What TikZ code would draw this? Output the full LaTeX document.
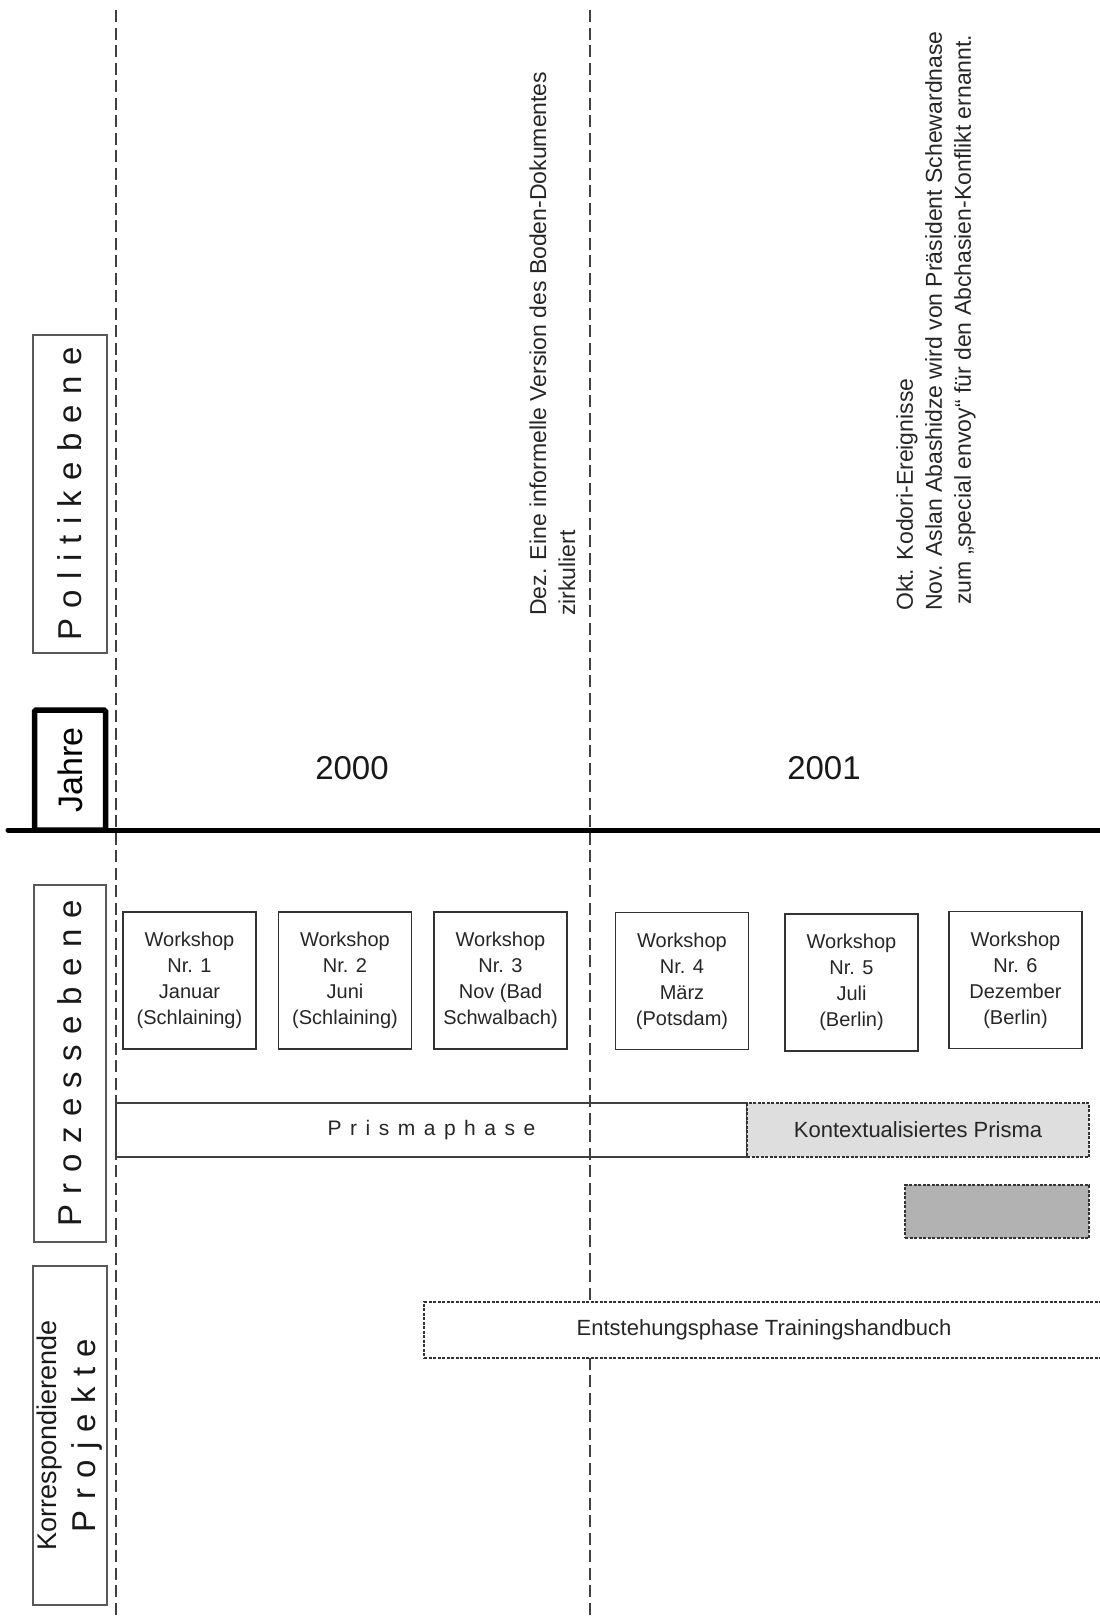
\documentclass[tikz,border=0pt]{standalone}
\usepackage{fontspec}
\setmainfont{Liberation Sans}
\makeatletter
\newcommand\lsp[2]{\def\lsp@sep{}\@tfor\lsp@c:=#2\do{\lsp@sep\lsp@c\def\lsp@sep{\hspace{#1}}}}
\makeatother
\begin{document}
\begin{tikzpicture}[x=1pt,y=-1pt,
  lane/.style={draw=black!65, line width=1.2pt, inner sep=0pt, rotate=90, text=black!90},
  bigfont/.style={font=\fontsize{33}{39}\selectfont},
  ws/.style={draw=black!80, line width=1.3pt, minimum width=133pt, minimum height=137pt, inner sep=0pt, align=center, font=\fontsize{20}{26}\selectfont, text=black!85},
  vdash/.style={draw=black!75, line width=1.4pt, dash pattern=on 12pt off 5.5pt},
  smalldash/.style={draw=black!80, line width=1.2pt, dash pattern=on 3pt off 1.5pt, inner sep=0pt, text=black!85},
  note/.style={rotate=90, anchor=west, align=left, inner sep=0pt, font=\fontsize{23}{29}\selectfont, text=black!85}]
\useasboundingbox (0,0) rectangle (1100,1617);

% vertical dashed guide lines
\coordinate (La) at (116,10); \coordinate (Lb) at (116,1617);
\coordinate (Ma) at (590,10); \coordinate (Mb) at (590,1617);
\draw[vdash] (La) -- (Lb);
\draw[vdash] (Ma) -- (Mb);

% lane labels
\node[lane, bigfont, minimum width=318pt, minimum height=74pt] (pol) at (70,494) {\lsp{10.3pt}{Politikebene}};
\node[draw=black, line width=5.5pt, rounded corners=1.5pt, rotate=90, minimum width=120pt, minimum height=71pt, inner sep=0pt, font=\fontsize{34}{40}\selectfont] (jahre) at (70,770) {Jahre};
\node[lane, bigfont, minimum width=357pt, minimum height=72pt] (proz) at (70,1063.5) {\lsp{10.5pt}{Prozessebene}};
\node[lane, bigfont, align=center, minimum width=339pt, minimum height=74pt] (korr) at (70,1435.5) {{\fontsize{27}{39}\selectfont Korrespondierende}\\\lsp{10.3pt}{Projekte}};

% time axis
\coordinate (H1) at (8,830); \coordinate (H2) at (1100,830);
\draw[line width=5pt, line cap=round] (H1) -- (H2);
\node[font=\fontsize{33}{40}\selectfont, text=black!90] (y2000) at (352,768) {2000};
\node[font=\fontsize{33}{40}\selectfont, text=black!90] (y2001) at (824,768) {2001};

% politics notes
\node[note] (dez) at (552.5,616) {Dez. Eine informelle Version des Boden-Dokumentes\\zirkuliert};
\node[note] (okt) at (936,611) {Okt. Kodori-Ereignisse\\Nov. Aslan Abashidze wird von Präsident Schewardnase\\\hspace*{6pt}zum „special envoy“ für den Abchasien-Konflikt ernannt.};

% workshops
\node[ws] (w1) at (189.5,980.5) {Workshop\\Nr. 1\\Januar\\(Schlaining)};
\node[ws] (w2) at (345,980.5) {Workshop\\Nr. 2\\Juni\\(Schlaining)};
\node[ws] (w3) at (500.5,980.5) {Workshop\\Nr. 3\\Nov (Bad\\Schwalbach)};
\node[ws] (w4) at (682,981) {Workshop\\Nr. 4\\März\\(Potsdam)};
\node[ws] (w5) at (851.5,982.5) {Workshop\\Nr. 5\\Juli\\(Berlin)};
\node[ws] (w6) at (1015.5,980) {Workshop\\Nr. 6\\Dezember\\(Berlin)};

% phases
\node[draw=black!75, line width=1.3pt, minimum width=631pt, minimum height=54pt, inner sep=0pt, font=\fontsize{21}{25}\selectfont, text=black!85] (prisma) at (431.5,1130) {\lsp{8.5pt}{Prismaphase}};
\node[smalldash, fill=black!13, minimum width=342pt, minimum height=54pt, font=\fontsize{22}{26}\selectfont] (kontext) at (918,1130) {Kontextualisiertes Prisma};
\node[smalldash, fill=black!30, minimum width=184pt, minimum height=53pt] (dark) at (997,1211.5) {};
\node[smalldash, fill=white, minimum width=680pt, minimum height=56pt, font=\fontsize{22}{26}\selectfont] (entst) at (764,1330) {Entstehungsphase Trainingshandbuch};
\end{tikzpicture}
\end{document}
